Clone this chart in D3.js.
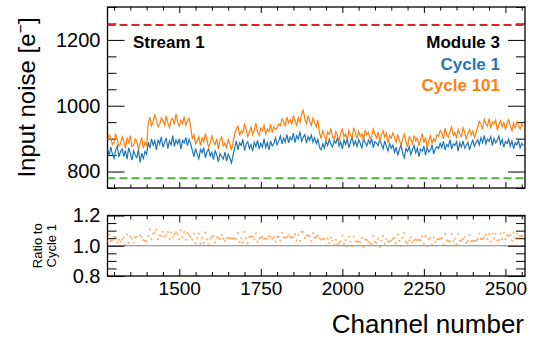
<!DOCTYPE html>
<html>
<head>
<meta charset="utf-8">
<title>input noise</title>
<style>
  body { margin: 0; background: #fff; }
  text { font-family: "Liberation Sans", Arial, Helvetica, sans-serif; }
  .tick line { stroke: #000; stroke-width: 1; }
  .domain { display: none; }
</style>
<script src="https://cdn.jsdelivr.net/npm/d3@7"></script>
</head>
<body>
<script>
// channel numbers, one sample every 5 channels
var channels = d3.range(1280, 2560, 5);

// input noise [e-], cycle 1
var cycle1 = [
  870, 848, 875, 853, 840, 866, 878, 844, 861, 869,
  846, 864, 838, 872, 856, 835, 863, 850, 842, 867,
  828, 856, 840, 861, 852,
  890, 871, 899, 880, 894, 866, 897, 883, 905, 874,
  888, 902, 870, 893, 881, 909, 876, 896, 884, 900,
  868, 895, 887, 904, 879, 898, 885,
  864, 845, 870, 852, 839, 867, 857, 873, 842, 860,
  868, 847, 858, 836, 863, 851, 829, 855, 846, 838,
  859, 832, 852, 841, 826, 850,
  872, 893, 866, 887, 879, 898, 864, 884, 891, 870,
  882, 862, 889, 876, 895, 868, 886, 874, 899, 873,
  888, 866, 893, 878, 885, 902, 881,
  893, 908, 884, 902, 890, 913, 887, 905, 896, 917,
  888, 909, 899, 921, 892, 904, 912, 886, 907, 895,
  911, 889, 903, 885, 898,
  874, 866, 884, 871, 892, 879, 898, 883, 875, 894,
  886, 903, 877, 891, 869, 896, 882, 899, 872, 889,
  905, 880, 893, 876, 897, 885, 870, 901, 888, 878,
  895, 884, 900, 873, 891, 886, 879, 898, 882, 869,
  893, 877, 863, 885, 871, 880,
  858, 874, 849, 867, 881, 855, 842, 870, 861, 876,
  852, 866, 879, 857, 871, 845, 868, 862, 877, 850,
  873, 859, 865, 881, 854, 869, 876,
  870, 886, 873, 892, 865, 882, 876, 897, 868, 884,
  879, 891, 862, 887, 875, 893, 871, 880, 889, 866,
  884, 895, 877, 888,
  896, 881, 903, 888, 910, 884, 899, 892, 906, 879,
  901, 887, 895, 908, 883, 897, 874, 891, 885, 899,
  877, 893, 870, 888, 881, 895, 872, 886, 879
];

// input noise [e-], cycle 101
var cycle101 = [
  896, 911, 903, 882, 889, 915, 897, 878, 884, 906,
  893, 870, 901, 888, 909, 876, 880, 899, 892, 867,
  885, 904, 871, 889, 877,
  947, 965, 939, 951, 972, 958, 936, 944, 963, 955,
  941, 969, 949, 934, 957, 961, 943, 975, 950, 938,
  956, 946, 967, 940, 953, 962, 937,
  899, 912, 885, 893, 906, 879, 902, 890, 915, 896,
  874, 887, 908, 891, 882, 900, 869, 894, 905, 878,
  886, 872, 897, 883, 866, 889,
  915, 930, 938, 909, 924, 917, 943, 928, 906, 920,
  935, 913, 926, 947, 919, 910, 932, 925, 940, 914,
  929, 921, 944, 918, 936, 927, 933,
  945, 939, 960, 952, 937, 966, 948, 958, 943, 970,
  955, 941, 963, 949, 974, 986, 959, 946, 968, 953,
  940, 962, 950, 935, 957,
  916, 901, 924, 909, 895, 920, 913, 931, 904, 899,
  921, 910, 892, 917, 928, 906, 914, 897, 925, 911,
  903, 933, 918, 900, 922, 907, 915, 894, 926, 912,
  919, 898, 908, 929, 913, 902, 920, 891, 911, 924,
  905, 916, 886, 909, 901, 918,
  903, 889, 911, 895, 880, 899, 914, 892, 875, 906,
  898, 885, 910, 893, 902, 878, 897, 915, 888, 904,
  871, 895, 909, 886, 900, 892, 912,
  908, 925, 917, 899, 931, 912, 904, 922, 936, 910,
  919, 901, 928, 915, 906, 933, 920, 897, 916, 927,
  911, 923, 905, 918,
  935, 952, 944, 928, 959, 947, 938, 961, 931, 950,
  945, 957, 926, 942, 954, 936, 949, 930, 946, 958,
  939, 924, 947, 933, 951, 940, 929, 944, 937
];

var xTicks = [1500, 1750, 2000, 2250, 2500];
var xMinor = d3.range(1300, 2560, 50).filter(function(v) { return xTicks.indexOf(v) < 0; });
var yTicks = [800, 1000, 1200];
var yMinor = [750, 850, 900, 950, 1050, 1100, 1150, 1250, 1300];
var rTicks = [0.8, 1.0, 1.2];
var rMinor = [0.85, 0.9, 0.95, 1.05, 1.1, 1.15];
var upperLimit = 1245, lowerLimit = 780;

var ratio = cycle101.map(function(v, i) { return v / cycle1[i]; });

var W = 534, H = 338;
var left = 107.5, right = 525;
var top1 = 7, bot1 = 188;
var top2 = 215.5, bot2 = 276;

var x = d3.scaleLinear().domain([1280, 2560]).range([left, right]);
var y = d3.scaleLinear().domain([750, 1300]).range([bot1, top1]);
var yr = d3.scaleLinear().domain([0.8, 1.2]).range([bot2, top2]);

var svg = d3.select("body").append("svg")
    .attr("width", W)
    .attr("height", H);

svg.append("rect").attr("width", W).attr("height", H).attr("fill", "#fff");

var blue = "#1f77b4", orange = "#ff7f0e";

function frame(yScale, t, b, ticksY, minorY, labels, xMaj, xMin) {
    var g = svg.append("g");
    // y major / minor, left
    g.append("g").attr("transform", "translate(" + left + ",0)")
        .call(d3.axisLeft(yScale).tickValues(ticksY).tickSizeInner(-17).tickSizeOuter(0).tickPadding(7)
            .tickFormat(d3.format(labels)))
        .call(function(s) { s.selectAll("text").attr("font-size", 20).attr("font-family", null).attr("fill", "#000"); });
    g.append("g").attr("transform", "translate(" + left + ",0)")
        .call(d3.axisLeft(yScale).tickValues(minorY).tickSizeInner(-9).tickSizeOuter(0).tickFormat(""));
    // right side
    g.append("g").attr("transform", "translate(" + right + ",0)")
        .call(d3.axisRight(yScale).tickValues(ticksY).tickSizeInner(-17).tickSizeOuter(0).tickFormat(""));
    g.append("g").attr("transform", "translate(" + right + ",0)")
        .call(d3.axisRight(yScale).tickValues(minorY).tickSizeInner(-9).tickSizeOuter(0).tickFormat(""));
    // top & bottom
    g.append("g").attr("transform", "translate(0," + t + ")")
        .call(d3.axisTop(x).tickValues(xTicks).tickSizeInner(-xMaj).tickSizeOuter(0).tickFormat(""));
    g.append("g").attr("transform", "translate(0," + t + ")")
        .call(d3.axisTop(x).tickValues(xMinor).tickSizeInner(-xMin).tickSizeOuter(0).tickFormat(""));
    g.append("g").attr("transform", "translate(0," + b + ")")
        .call(d3.axisBottom(x).tickValues(xMinor).tickSizeInner(-xMin).tickSizeOuter(0).tickFormat(""));
    g.append("rect")
        .attr("x", left).attr("y", t)
        .attr("width", right - left).attr("height", b - t)
        .attr("fill", "none").attr("stroke", "#000").attr("stroke-width", 1.3);
    return g;
}

// ---- top panel ----
var g1 = frame(y, top1, bot1, yTicks, yMinor, "d", 6, 3.5);
g1.append("g").attr("transform", "translate(0," + bot1 + ")")
    .call(d3.axisBottom(x).tickValues(xTicks).tickSizeInner(-6).tickSizeOuter(0).tickFormat(""));

svg.append("clipPath").attr("id", "clip1").append("rect")
    .attr("x", left).attr("y", top1).attr("width", right - left).attr("height", bot1 - top1);

var plot1 = svg.append("g").attr("clip-path", "url(#clip1)");

var line = d3.line()
    .x(function(d, i) { return x(channels[i]); })
    .y(function(d) { return y(d); });

plot1.append("path").datum(cycle1)
    .attr("d", line).attr("fill", "none")
    .attr("stroke", blue).attr("stroke-width", 1.2);
plot1.append("path").datum(cycle101)
    .attr("d", line).attr("fill", "none")
    .attr("stroke", orange).attr("stroke-width", 1.2);

plot1.append("line")
    .attr("x1", left).attr("x2", right)
    .attr("y1", y(upperLimit)).attr("y2", y(upperLimit))
    .attr("stroke", "#d62728").attr("stroke-width", 2).attr("stroke-dasharray", "8,4");
plot1.append("line")
    .attr("x1", left).attr("x2", right)
    .attr("y1", y(lowerLimit)).attr("y2", y(lowerLimit))
    .attr("stroke", "#5cad4a").attr("stroke-width", 2).attr("stroke-dasharray", "8,4");

// labels
svg.append("text").attr("x", 133).attr("y", 48)
    .attr("font-size", 17).attr("font-weight", "bold").text("Stream 1");
svg.append("text").attr("x", 500).attr("y", 48).attr("text-anchor", "end")
    .attr("font-size", 17).attr("font-weight", "bold").text("Module 3");
svg.append("text").attr("x", 500).attr("y", 69.5).attr("text-anchor", "end")
    .attr("font-size", 17).attr("font-weight", "bold").attr("fill", blue).text("Cycle 1");
svg.append("text").attr("x", 500).attr("y", 91).attr("text-anchor", "end")
    .attr("font-size", 17).attr("font-weight", "bold").attr("fill", orange).text("Cycle 101");

var yt = svg.append("text")
    .attr("transform", "translate(35," + ((top1 + bot1) / 2) + ") rotate(-90)")
    .attr("text-anchor", "middle").attr("font-size", 24);
yt.append("tspan").text("Input noise [e");
yt.append("tspan").attr("font-size", 16).attr("dy", -9).text("\u2212");
yt.append("tspan").attr("dy", 9).text("]");

// ---- ratio panel ----
var g2 = frame(yr, top2, bot2, rTicks, rMinor, ".1f", 7, 4);
g2.append("g").attr("transform", "translate(0," + bot2 + ")")
    .call(d3.axisBottom(x).tickValues(xTicks).tickSizeInner(-7).tickSizeOuter(0).tickPadding(6)
        .tickFormat(d3.format("d")))
    .call(function(s) { s.selectAll("text").attr("font-size", 19).attr("font-family", null).attr("fill", "#000"); });

svg.append("line")
    .attr("x1", left).attr("x2", right)
    .attr("y1", yr(1)).attr("y2", yr(1))
    .attr("stroke", "#000").attr("stroke-width", 1).attr("stroke-dasharray", "1,1");

svg.append("g").selectAll("circle")
    .data(ratio)
    .enter().append("circle")
    .attr("cx", function(d, i) { return x(channels[i]); })
    .attr("cy", function(d) { return yr(d); })
    .attr("r", 1.1)
    .attr("fill", orange)
    .attr("opacity", 0.6);

var rt = svg.append("text")
    .attr("transform", "translate(0," + ((top2 + bot2) / 2) + ") rotate(-90)")
    .attr("text-anchor", "middle").attr("font-size", 13);
rt.append("tspan").attr("x", 0).attr("y", 42).text("Ratio to");
rt.append("tspan").attr("x", 0).attr("y", 56).text("Cycle 1");

svg.append("text").attr("x", 524).attr("y", 333).attr("text-anchor", "end")
    .attr("font-size", 26).text("Channel number");
</script>
</body>
</html>
